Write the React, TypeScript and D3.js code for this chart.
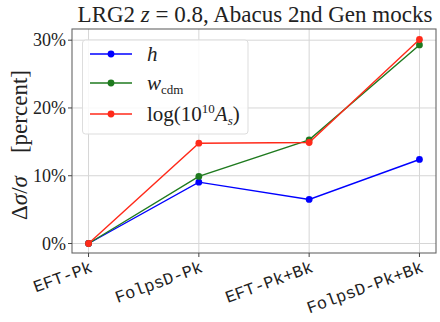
import React from "react";
import * as d3 from "d3";

const categories = ["EFT-Pk", "FolpsD-Pk", "EFT-Pk+Bk", "FolpsD-Pk+Bk"];
const hValues = [0, 9.05, 6.5, 12.4];
const wcdmValues = [0, 9.9, 15.3, 29.3];
const logAsValues = [0, 14.8, 14.9, 30.1];
const yTicks = [0, 10, 20, 30];
const seriesColors = ["#0000ff", "#1f7a1f", "#ff2a1a"];

const W = 440, H = 322;
const left = 72, right = 436, top = 29, bottom = 253;

export default function App() {
  const x = d3.scaleLinear().domain([-0.15, 3.15]).range([left, right]);
  const y = d3.scaleLinear().domain([-1.4, 31.65]).range([bottom, top]);
  const line = d3.line<number>().x((_, i) => x(i)).y((d) => y(d));
  const series = [hValues, wcdmValues, logAsValues];
  const tnr = { fontFamily: "Liberation Serif, DejaVu Serif, serif" };
  const mono = { fontFamily: "Liberation Mono, DejaVu Sans Mono, monospace" };
  return (
    <svg width={W} height={H} style={{ position: "absolute", left: 0, top: 0, background: "#fff" }}>
      {categories.map((_, i) => (
        <line key={"gx" + i} x1={x(i)} x2={x(i)} y1={top} y2={bottom} stroke="#d6d6d6" strokeWidth={1} />
      ))}
      {yTicks.map((t) => (
        <line key={"gy" + t} x1={left} x2={right} y1={y(t)} y2={y(t)} stroke="#d6d6d6" strokeWidth={1} />
      ))}
      {series.map((s, k) => (
        <g key={"s" + k}>
          <path d={line(s) || ""} fill="none" stroke={seriesColors[k]} strokeWidth={1.4} />
          {s.map((v, i) => (
            <circle key={i} cx={x(i)} cy={y(v)} r={3.4} fill={seriesColors[k]} />
          ))}
        </g>
      ))}
      <rect x={left} y={top} width={right - left} height={bottom - top} fill="none" stroke="#666" strokeWidth={1.1} />
      {yTicks.map((t) => (
        <g key={"yt" + t}>
          <line x1={left - 4} x2={left} y1={y(t)} y2={y(t)} stroke="#444" strokeWidth={1} />
          <text x={left - 6} y={y(t)} dy="0.35em" textAnchor="end" style={tnr} fontSize={18} fill="#222">
            {t}%
          </text>
        </g>
      ))}
      {categories.map((c, i) => (
        <g key={"xt" + i}>
          <line x1={x(i)} x2={x(i)} y1={bottom} y2={bottom + 4} stroke="#444" strokeWidth={1} />
          <text
            transform={`translate(${x(i) + 1},${bottom + 8}) rotate(-20)`}
            textAnchor="end"
            dominantBaseline="hanging"
            style={mono}
            fontSize={17}
            fill="#222"
          >
            {c}
          </text>
        </g>
      ))}
      <text x={(left + right) / 2 + 1} y={22} textAnchor="middle" style={tnr} fontSize={23} fill="#222">
        LRG2 <tspan fontStyle="italic">z</tspan> = 0.8, Abacus 2nd Gen mocks
      </text>
      <text
        transform={`translate(27,${(top + bottom) / 2 + 4}) rotate(-90)`}
        textAnchor="middle"
        style={tnr}
        fontSize={23}
        fill="#222"
      >
        Δ<tspan fontStyle="italic">σ</tspan>/<tspan fontStyle="italic">σ</tspan>{"\u2003"}[percent]
      </text>
      <rect x={82.5} y={40} width={165.5} height={94} rx={3} fill="#fff" fillOpacity={0.85} stroke="#ddd" strokeWidth={1} />
      {["h", "wcdm", "logAs"].map((name, k) => {
        const ly = [54, 83, 114][k];
        return (
          <g key={name}>
            <line x1={90} x2={132} y1={ly} y2={ly} stroke={seriesColors[k]} strokeWidth={1.4} />
            <circle cx={111} cy={ly} r={3.4} fill={seriesColors[k]} />
            <text x={147} y={ly} dy="0.35em" style={tnr} fontSize={21} fill="#222">
              {k === 0 && <tspan fontStyle="italic">h</tspan>}
              {k === 1 && (
                <>
                  <tspan fontStyle="italic">w</tspan>
                  <tspan fontSize={13} dy={4}>cdm</tspan>
                </>
              )}
              {k === 2 && (
                <>
                  log(10<tspan fontSize={13} dy={-8}>10</tspan>
                  <tspan dy={8} fontStyle="italic">A</tspan>
                  <tspan fontSize={13} dy={4} fontStyle="italic">s</tspan>
                  <tspan dy={-4}>)</tspan>
                </>
              )}
            </text>
          </g>
        );
      })}
    </svg>
  );
}
